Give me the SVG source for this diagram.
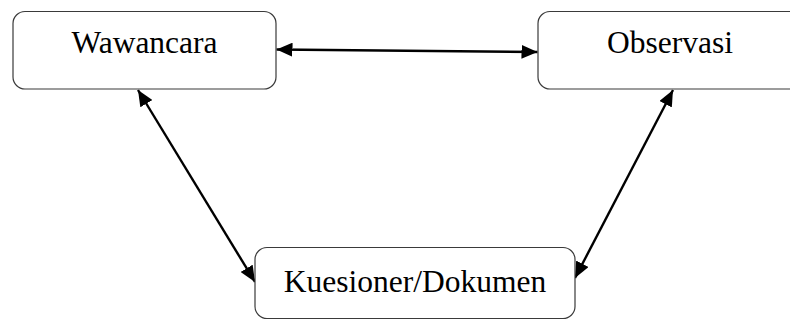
<svg xmlns="http://www.w3.org/2000/svg" width="790" height="320" viewBox="0 0 790 320">
  <style>
    .box { fill: #ffffff; stroke: #3a3a3a; stroke-width: 1.2; }
    .label { font-family: "Liberation Serif", "Times New Roman", serif; font-size: 31.5px; fill: #000000; text-anchor: middle; }
    .link { stroke: #000000; stroke-width: 2.4; fill: none; marker-start: url(#head); marker-end: url(#head); }
  </style>
  <defs>
    <marker id="head" viewBox="0 0 16 14" refX="16" refY="7" markerWidth="16" markerHeight="14" markerUnits="userSpaceOnUse" orient="auto-start-reverse">
      <path d="M0,0 L16,7 L0,14 Z" fill="#000000"/>
    </marker>
  </defs>
  <rect width="790" height="320" fill="#ffffff"/>

  <g id="connectors">
    <line class="link" x1="276.5" y1="49.5" x2="537.5" y2="52"/>
    <line class="link" x1="138" y1="90" x2="255" y2="282"/>
    <line class="link" x1="673" y1="90" x2="575" y2="278"/>
  </g>

  <g id="wawancara">
    <rect class="box" x="13" y="11.5" width="263" height="77.5" rx="12"/>
    <text class="label" x="144.5" y="53">Wawancara</text>
  </g>

  <g id="observasi">
    <rect class="box" x="538" y="11.5" width="265" height="77.5" rx="12"/>
    <text class="label" x="670" y="53">Observasi</text>
  </g>

  <g id="kuesioner">
    <rect class="box" x="255" y="247.5" width="320" height="71" rx="12"/>
    <text class="label" x="415" y="292">Kuesioner/Dokumen</text>
  </g>
</svg>
